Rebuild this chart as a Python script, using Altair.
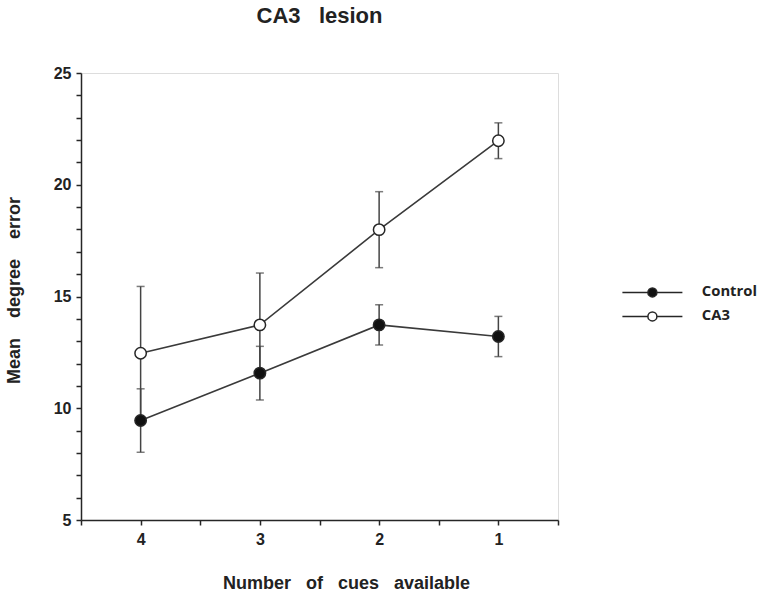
import altair as alt
import pandas as pd

# ---- data ----
cues = [4, 3, 2, 1]
series_names = ["Control", "CA3"]
control_mean = [9.45, 11.57, 13.73, 13.21]
control_err = [1.42, 1.20, 0.90, 0.90]
ca3_mean = [12.46, 13.73, 17.99, 21.97]
ca3_err = [2.99, 2.32, 1.70, 0.80]

y_ticks = list(range(5, 26))
x_ticks = [0.5, 1, 1.5, 2, 2.5, 3, 3.5, 4, 4.5]

rows = []
for name, means, errs in [("Control", control_mean, control_err), ("CA3", ca3_mean, ca3_err)]:
    for c, m, e in zip(cues, means, errs):
        rows.append({"series": name, "cues": c, "mean": m, "lo": m - e, "hi": m + e})
df = pd.DataFrame(rows)

FONT = "Liberation Sans"
INK = "#262626"
GAP = "\u00a0\u00a0\u00a0 "

x_enc = alt.X(
    "cues:Q",
    scale=alt.Scale(domain=[0.5, 4.5], reverse=True, nice=False, zero=False),
    axis=alt.Axis(
        title="Number\u00a0\u00a0 of\u00a0\u00a0 cues\u00a0\u00a0 available",
        values=x_ticks,
        tickCount=30,
        labelExpr="datum.value % 1 === 0 ? format(datum.value, 'd') : ''",
        labelOverlap=False,
        labelFlush=False,
        grid=False,
        tickSize=5,
        labelPadding=6,
        titleX=265,
        titleY=68,
        titleAlign="center",
        titleBaseline="alphabetic",
        titleFontSize=18,
    ),
)
y_scale = alt.Scale(domain=[5, 25], nice=False, zero=False)
y_axis = alt.Axis(
    title="Mean" + GAP + "degree" + GAP + "error",
    values=y_ticks,
    tickCount=30,
    labelExpr="datum.value % 5 === 0 ? format(datum.value, 'd') : ''",
    labelOverlap=False,
    labelFlush=False,
    grid=False,
    tickSize=5,
    labelPadding=5,
    titleAngle=270,
    titleX=-62,
    titleY=217,
    titleAlign="center",
    titleBaseline="alphabetic",
    titleFontSize=18,
)

base = alt.Chart(df)

bars = base.mark_rule(color="#444444", strokeWidth=1.5).encode(
    x=x_enc,
    y=alt.Y("lo:Q", scale=y_scale, axis=y_axis),
    y2="hi:Q",
)

caps = base.transform_fold(["lo", "hi"], as_=["end", "val"]).mark_tick(
    orient="horizontal", color="#444444", size=8, thickness=1.5
).encode(
    x="cues:Q",
    y=alt.Y("val:Q"),
)

lines = base.mark_line(color="#3a3a3a", strokeWidth=1.6).encode(
    x="cues:Q",
    y=alt.Y("mean:Q"),
    detail="series:N",
)

legend_path = (
    "M-6,0L-0.9,0M0.9,0L6,0"
    "M-0.9,0A0.9,0.9,0,1,1,0.9,0A0.9,0.9,0,1,1,-0.9,0Z"
)

points = base.mark_point(
    filled=True, shape="circle", size=130, stroke=INK, strokeWidth=1.5, opacity=1
).encode(
    x="cues:Q",
    y=alt.Y("mean:Q"),
    fill=alt.Fill(
        "series:N",
        scale=alt.Scale(domain=series_names, range=["#111111", "#ffffff"]),
        legend=alt.Legend(
            title=None,
            orient="none",
            legendX=564,
            legendY=212,
            symbolType=legend_path,
            symbolSize=100,
            symbolStrokeColor=INK,
            symbolStrokeWidth=1.5,
            labelOffset=42,
            rowPadding=8,
            labelFont="Open Sans",
            labelFontSize=14.8,
            labelFontWeight="bold",
            labelColor="#222222",
        ),
    ),
)

chart = (
    alt.layer(bars, caps, lines, points)
    .properties(
        width=477,
        height=447,
        title=alt.Title(
            "CA3\u00a0\u00a0\u00a0lesion",
            font=FONT,
            fontSize=22,
            fontWeight="bold",
            color="#222222",
            anchor="middle",
            baseline="alphabetic",
            offset=20,
        ),
        autosize=alt.AutoSizeParams(type="none"),
        padding={"left": 81, "top": 73, "right": 203, "bottom": 71},
    )
    .configure_view(stroke=None)
    .configure(background="white")
    .configure_axis(
        domainColor=INK,
        domainWidth=1.5,
        tickColor=INK,
        tickWidth=1.5,
        labelFont=FONT,
        labelFontSize=16,
        labelFontWeight="bold",
        labelColor="#222222",
        titleFont=FONT,
        titleFontSize=16,
        titleFontWeight="bold",
        titleColor="#222222",
    )
)

chart.save("out.html", embed_options={"renderer": "svg", "actions": False})
